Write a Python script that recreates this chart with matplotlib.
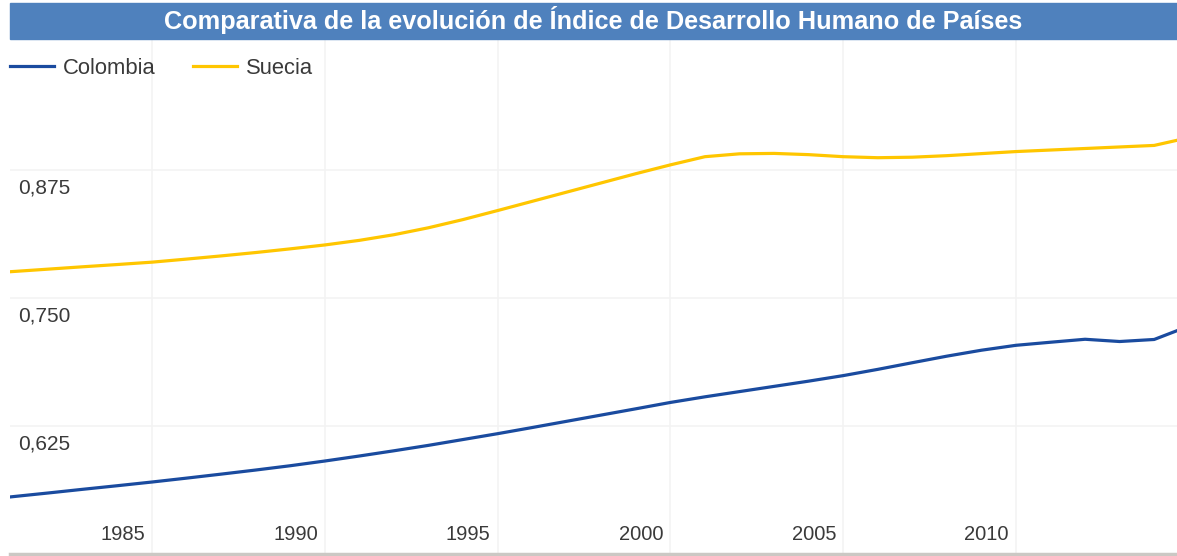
import matplotlib.pyplot as plt
import matplotlib.transforms as mtransforms
from matplotlib.patches import Rectangle

plt.rcParams["font.family"] = ["Liberation Sans", "DejaVu Sans"]

# Indice de Desarrollo Humano
years = list(range(1980, 2016))
colombia = [0.5525, 0.5561, 0.5596, 0.5632, 0.5667, 0.5703,
            0.5741, 0.5780, 0.5820, 0.5862, 0.5908,
            0.5957, 0.6008, 0.6061, 0.6118, 0.6175,
            0.6235, 0.6296, 0.6357, 0.6418, 0.6480,
            0.6535, 0.6586, 0.6637, 0.6688, 0.6742,
            0.6803, 0.6868, 0.6932, 0.6990, 0.7038,
            0.7068, 0.7097, 0.7075, 0.7095, 0.7225]
suecia = [0.7737, 0.7759, 0.7782, 0.7805, 0.7827, 0.7850,
          0.7880, 0.7911, 0.7944, 0.7980, 0.8018,
          0.8063, 0.8118, 0.8186, 0.8266, 0.8354,
          0.8444, 0.8534, 0.8624, 0.8714, 0.8800,
          0.8880, 0.8908, 0.8912, 0.8900, 0.8880,
          0.8870, 0.8875, 0.8890, 0.8910, 0.8930,
          0.8945, 0.8960, 0.8975, 0.8990, 0.9066]

xticks = [1985, 1990, 1995, 2000, 2005, 2010]
yticks = [0.625, 0.750, 0.875]
ylabels = ["0,625", "0,750", "0,875"]

title = "Comparativa de la evolución de Índice de Desarrollo Humano de Países"
c_col = "#1a4b9f"
c_sue = "#ffc600"
txt = "#3a3a3a"
grid_c = "#f3f3f3"

W, H = 1177, 556
fig = plt.figure(figsize=(W / 100, H / 100), dpi=100)
ax = fig.add_axes([10 / W, 2 / H, 1167 / W, 512 / H])

ax.plot(years, colombia, color=c_col, lw=2.3, label="Colombia", solid_joinstyle="round", zorder=3)
ax.plot(years, suecia, color=c_sue, lw=2.3, label="Suecia", solid_joinstyle="round", zorder=3)

ax.set_xlim(1980.89, 2014.66)
ax.set_ylim(0.5, 1.0)

for x in xticks:
    ax.axvline(x, color=grid_c, lw=1.2, zorder=1, ymax=1.06, clip_on=False)
for y in yticks:
    ax.axhline(y, color=grid_c, lw=1.2, zorder=1)

ax.set_xticks([])
ax.set_yticks([])
for s in ["top", "left", "right"]:
    ax.spines[s].set_visible(False)
ax.spines["bottom"].set_color("#cbc8c4")
ax.spines["bottom"].set_linewidth(2.5)

# etiquetas del eje y dentro del area, bajo la linea de rejilla
ytr = mtransforms.offset_copy(ax.get_yaxis_transform(), fig=fig, x=8, y=-9, units="dots")
for y, lab in zip(yticks, ylabels):
    ax.text(0, y, lab, transform=ytr, ha="left", va="top", fontsize=15, color=txt)

# etiquetas del eje x a la izquierda de cada linea vertical
xtr = mtransforms.offset_copy(ax.get_xaxis_transform(), fig=fig, x=-7, y=10, units="dots")
for x in xticks:
    ax.text(x, 0, str(x), transform=xtr, ha="right", va="bottom", fontsize=14.5, color=txt)

# barra del titulo
fig.patches.append(Rectangle((10 / W, (H - 39) / H), 1167 / W, 36 / H,
                             transform=fig.transFigure, color="#4f81bd", zorder=0))
fig.text((10 + 1167 / 2) / W, (H - 20) / H, title, ha="center", va="center",
         color="white", fontsize=18.2, fontweight="bold")

fig.legend(loc="center left", bbox_to_anchor=(10 / W, (H - 68) / H), ncol=2,
           frameon=False, fontsize=15.8, handlelength=2.0, handletextpad=0.42,
           columnspacing=1.7, borderpad=0, borderaxespad=0, labelcolor=txt)

fig.savefig("out.png", dpi=100)
